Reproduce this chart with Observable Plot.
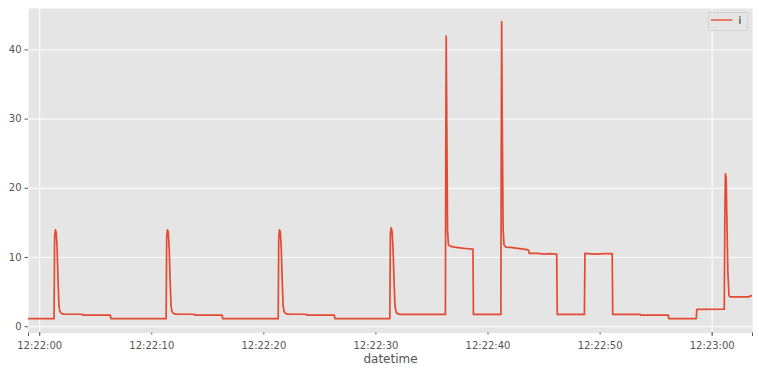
<!DOCTYPE html>
<html>
<head>
<meta charset="utf-8">
<script src="https://cdn.jsdelivr.net/npm/d3@7"></script>
<script src="https://cdn.jsdelivr.net/npm/@observablehq/plot@0.6"></script>
<style>
  html, body { margin: 0; padding: 0; background: #fff; }
  #chart svg { font-family: "DejaVu Sans", sans-serif; display: block; }
</style>
</head>
<body>
<div id="chart"></div>
<script>
// ---- data (seconds after 12:22:00, value of i) ----
const startTime = "2000-01-01T12:22:00Z";
const seconds = [
  -1.0, 1.28, 1.33, 1.40, 1.47, 1.55, 1.63, 1.72, 1.80, 1.95, 2.2, 3.80, 3.85, 6.30, 6.36,
  11.28, 11.33, 11.40, 11.47, 11.55, 11.63, 11.72, 11.80, 11.95, 12.2, 13.80, 13.85, 16.27, 16.33,
  21.28, 21.33, 21.40, 21.47, 21.55, 21.63, 21.72, 21.80, 21.95, 22.2, 23.78, 23.83, 26.28, 26.34,
  31.24, 31.29, 31.36, 31.44, 31.52, 31.61, 31.70, 31.80, 31.95, 32.2,
  36.20, 36.23, 36.27, 36.32, 36.39, 36.47, 36.7, 37.0, 37.5, 38.0, 38.6, 38.66, 38.70,
  41.15, 41.18, 41.22, 41.27, 41.35, 41.43, 41.6, 42.0, 42.5, 43.0, 43.6, 43.68, 44.5, 45.0, 45.5, 46.13, 46.18,
  48.60, 48.65, 49.5, 50.5, 51.08, 51.13,
  53.58, 53.63, 56.08, 56.13,
  58.58, 58.63, 61.08, 61.13, 61.18, 61.25, 61.32, 61.40, 61.50, 61.60, 63.30, 63.40, 63.6
];
const current = [
  1.16, 1.16, 13.0, 14.0, 13.6, 11.5, 7.0, 3.0, 2.2, 1.9, 1.82, 1.80, 1.66, 1.66, 1.16,
  1.16, 13.0, 14.0, 13.6, 11.5, 7.0, 3.0, 2.2, 1.9, 1.82, 1.80, 1.66, 1.66, 1.16,
  1.16, 13.0, 14.0, 13.6, 11.5, 7.0, 3.0, 2.2, 1.9, 1.82, 1.80, 1.66, 1.66, 1.16,
  1.16, 13.5, 14.3, 13.8, 11.5, 7.0, 3.0, 2.1, 1.85, 1.78,
  1.78, 25.0, 42.0, 30.0, 14.0, 11.8, 11.6, 11.5, 11.4, 11.3, 11.2, 11.2, 1.78,
  1.78, 25.0, 44.1, 30.0, 14.0, 11.8, 11.5, 11.45, 11.35, 11.25, 11.1, 10.6, 10.6, 10.5, 10.55, 10.5, 1.78,
  1.78, 10.6, 10.5, 10.55, 10.55, 1.78,
  1.78, 1.66, 1.66, 1.16,
  1.16, 2.5, 2.52, 15.0, 22.1, 21.5, 15.0, 8.0, 4.5, 4.3, 4.3, 4.45, 4.45
];
const xDomainSeconds = [-1.0, 63.6];
const tickSeconds = [0, 10, 20, 30, 40, 50, 60];
const tickLabels = ["12:22:00", "12:22:10", "12:22:20", "12:22:30", "12:22:40", "12:22:50", "12:23:00"];
const majorSeconds = [-1.0, 0, 60, 63.6];
const gridSeconds = [0, 60];
const yTicks = [0, 10, 20, 30, 40];
const yDomain = [-0.91, 45.98];
const seriesName = "i";
const xLabel = "datetime";

// ---- build ----
const t0 = new Date(startTime).getTime();
const toDate = s => new Date(t0 + s * 1000);
const rows = seconds.map((s, k) => ({datetime: toDate(s), i: current[k]}));

const W = 759, H = 374;
const chart = Plot.plot({
  width: W, height: H,
  marginLeft: 28, marginRight: 7, marginTop: 8, marginBottom: 41.5,
  x: {type: "utc", domain: xDomainSeconds.map(toDate)},
  y: {domain: yDomain},
  style: {fontFamily: "DejaVu Sans, sans-serif", background: "#fff"},
  marks: [
    Plot.frame({fill: "#E5E5E5", stroke: null}),
    Plot.gridY(yTicks, {stroke: "#fff", strokeOpacity: 1, strokeWidth: 1}),
    Plot.gridX(gridSeconds.map(toDate), {stroke: "#fff", strokeOpacity: 1, strokeWidth: 1}),
    Plot.axisY(yTicks, {tickSize: 3.5, tickPadding: 3.5, stroke: "#555", fill: "#555", fontSize: 10, label: null}),
    Plot.axisX(tickSeconds.map(toDate), {
      tickSize: 2, tickPadding: 6.5, stroke: "#555", fill: "#555", fontSize: 10, label: null,
      tickFormat: (d) => tickLabels[tickSeconds.indexOf((d.getTime() - t0) / 1000)]
    }),
    Plot.axisX(majorSeconds.map(toDate), {tickSize: 3.5, stroke: "#555", tickFormat: () => "", label: null}),
    Plot.line(rows, {x: "datetime", y: "i", stroke: "#E24A33", strokeWidth: 1.7, clip: true}),
    Plot.text([xLabel], {frameAnchor: "bottom", dy: 30, fontSize: 12, fill: "#555"})
  ]
});
document.getElementById("chart").appendChild(chart);

// legend (upper right, matplotlib style)
const svg = d3.select(chart);
const g = svg.append("g");
g.append("rect").attr("x", 708.5).attr("y", 12.5).attr("width", 39).attr("height", 18)
  .attr("rx", 2).attr("fill", "#E5E5E5").attr("fill-opacity", 0.8).attr("stroke", "#CCCCCC").attr("stroke-width", 0.8);
g.append("line").attr("x1", 711).attr("x2", 732.5).attr("y1", 20).attr("y2", 20)
  .attr("stroke", "#E24A33").attr("stroke-opacity", 0.8).attr("stroke-width", 1.7);
g.append("text").attr("x", 740).attr("y", 24).attr("font-size", 10).attr("fill", "#111").text(seriesName);
</script>
</body>
</html>
